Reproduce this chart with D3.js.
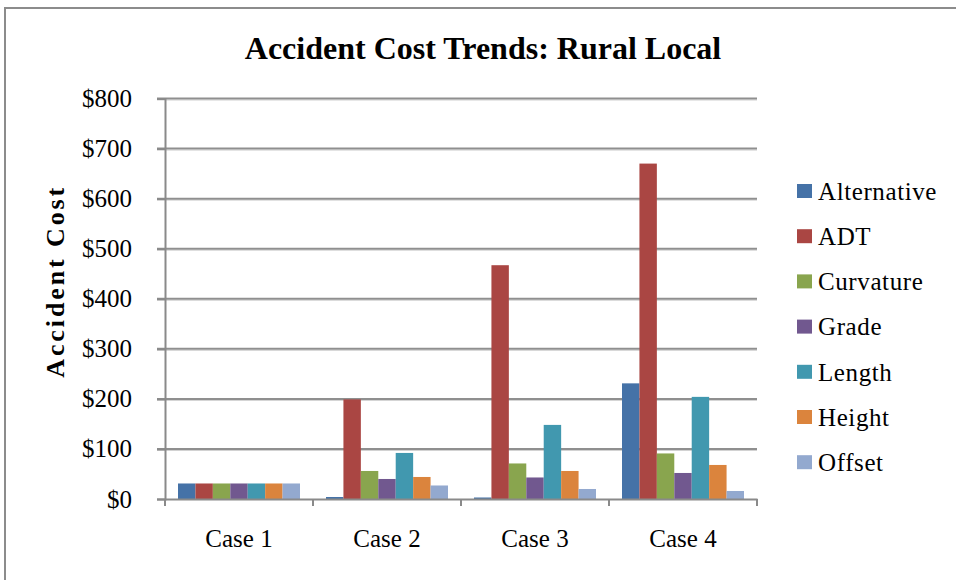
<!DOCTYPE html>
<html>
<head>
<meta charset="utf-8">
<script src="https://cdn.jsdelivr.net/npm/d3@7"></script>
<style>
  html, body { margin: 0; padding: 0; background: #fff; }
  svg { display: block; }
  text { font-family: "Liberation Serif", "Times New Roman", serif; fill: #000; }
</style>
</head>
<body>
<svg id="chart" width="956" height="580"></svg>
<script>
const title = "Accident Cost Trends: Rural Local";
const yTitle = "Accident Cost";
const categories = ["Case 1", "Case 2", "Case 3", "Case 4"];
const seriesNames = ["Alternative", "ADT", "Curvature", "Grade", "Length", "Height", "Offset"];
const seriesColors = ["#4572A7", "#AA4643", "#89A54E", "#71588F", "#4198AF", "#DB843D", "#93A9CF"];
const alternative = [31, 4, 3, 231];
const adt = [31, 199, 467, 670];
const curvature = [31, 56, 71, 91];
const grade = [31, 40, 43, 52];
const lengthVals = [31, 92, 148, 204];
const heightVals = [31, 44, 56, 68];
const offset = [31, 27, 20, 16];
const yTicks = [0, 100, 200, 300, 400, 500, 600, 700, 800];

const seriesValues = [alternative, adt, curvature, grade, lengthVals, heightVals, offset];

const svg = d3.select("#chart");
const W = 956, H = 580;
const plot = { left: 165, right: 757, top: 98.5, bottom: 499 };

// outer border
svg.append("rect").attr("x", 5).attr("y", 8).attr("width", W + 10).attr("height", H + 10)
  .attr("fill", "#fff").attr("stroke", "#8c8c8c").attr("stroke-width", 2);

const y = d3.scaleLinear().domain([0, 800]).range([plot.bottom, plot.top]);
const x0 = d3.scaleBand().domain(categories).range([plot.left, plot.right]).padding(0);
const groupPad = 13;
const x1 = d3.scaleBand().domain(seriesNames).range([groupPad, x0.bandwidth() - groupPad]).padding(0);
const color = d3.scaleOrdinal().domain(seriesNames).range(seriesColors);

// gridlines
const grid = svg.append("g");
yTicks.forEach(t => {
  if (t === 0) return;
  grid.append("line").attr("x1", plot.left - 8).attr("x2", plot.right)
    .attr("y1", y(t) + 1.5).attr("y2", y(t) + 1.5).attr("stroke", "#d0d0d0").attr("stroke-width", 1);
  grid.append("line").attr("x1", plot.left - 8).attr("x2", plot.right)
    .attr("y1", y(t)).attr("y2", y(t)).attr("stroke", "#8f8f8f").attr("stroke-width", 2);
});

// bars
const data = [];
categories.forEach((c, i) => {
  seriesNames.forEach((s, j) => data.push({ cat: c, series: s, value: seriesValues[j][i] }));
});
svg.append("g").selectAll("rect").data(data).join("rect")
  .attr("x", d => x0(d.cat) + x1(d.series))
  .attr("width", x1.bandwidth())
  .attr("y", d => y(d.value))
  .attr("height", d => y(0) - y(d.value))
  .attr("fill", d => color(d.series));

// y axis
const yAxis = d3.axisLeft(y).tickValues(yTicks).tickFormat(d => "$" + d).tickSize(8).tickPadding(25);
const gy = svg.append("g").attr("transform", `translate(${plot.left},0)`).call(yAxis);
gy.select(".domain").attr("stroke", "#8a8a8a").attr("stroke-width", 2);
gy.selectAll(".tick line").attr("stroke", "#8a8a8a").attr("stroke-width", 2);
gy.selectAll(".tick text").attr("font-family", "Liberation Serif").attr("font-size", 25).attr("fill", "#000");

// x axis
const xAxis = d3.axisBottom(x0).tickSize(0).tickPadding(30);
const gx = svg.append("g").attr("transform", `translate(0,${plot.bottom})`).call(xAxis);
gx.select(".domain").attr("stroke", "#8a8a8a").attr("stroke-width", 2);
gx.selectAll(".tick text").attr("font-family", "Liberation Serif").attr("font-size", 25).attr("fill", "#000");
// category boundary ticks
const bounds = categories.map(c => x0(c)).concat([plot.right]);
svg.append("g").selectAll("line").data(bounds).join("line")
  .attr("x1", d => d).attr("x2", d => d)
  .attr("y1", plot.bottom).attr("y2", plot.bottom + 7)
  .attr("stroke", "#8a8a8a").attr("stroke-width", 2);

// title
svg.append("text").attr("x", 483).attr("y", 59).attr("text-anchor", "middle")
  .attr("font-size", 32).attr("font-weight", "bold").text(title);

// y title
svg.append("text").attr("transform", `translate(64,${(plot.top + plot.bottom) / 2 - 16}) rotate(-90)`)
  .attr("text-anchor", "middle").attr("font-size", 26).attr("font-weight", "bold")
  .attr("textLength", 190).attr("lengthAdjust", "spacing").text(yTitle);

// legend
const legend = svg.append("g");
seriesNames.forEach((s, i) => {
  const cy = 191 + i * 45.2;
  legend.append("rect").attr("x", 797).attr("y", cy - 7).attr("width", 15).attr("height", 14).attr("fill", color(s));
  legend.append("text").attr("x", 818).attr("y", cy).attr("dy", "0.35em").attr("font-size", 25)
    .attr("letter-spacing", 0.6).text(s);
});
</script>
</body>
</html>
